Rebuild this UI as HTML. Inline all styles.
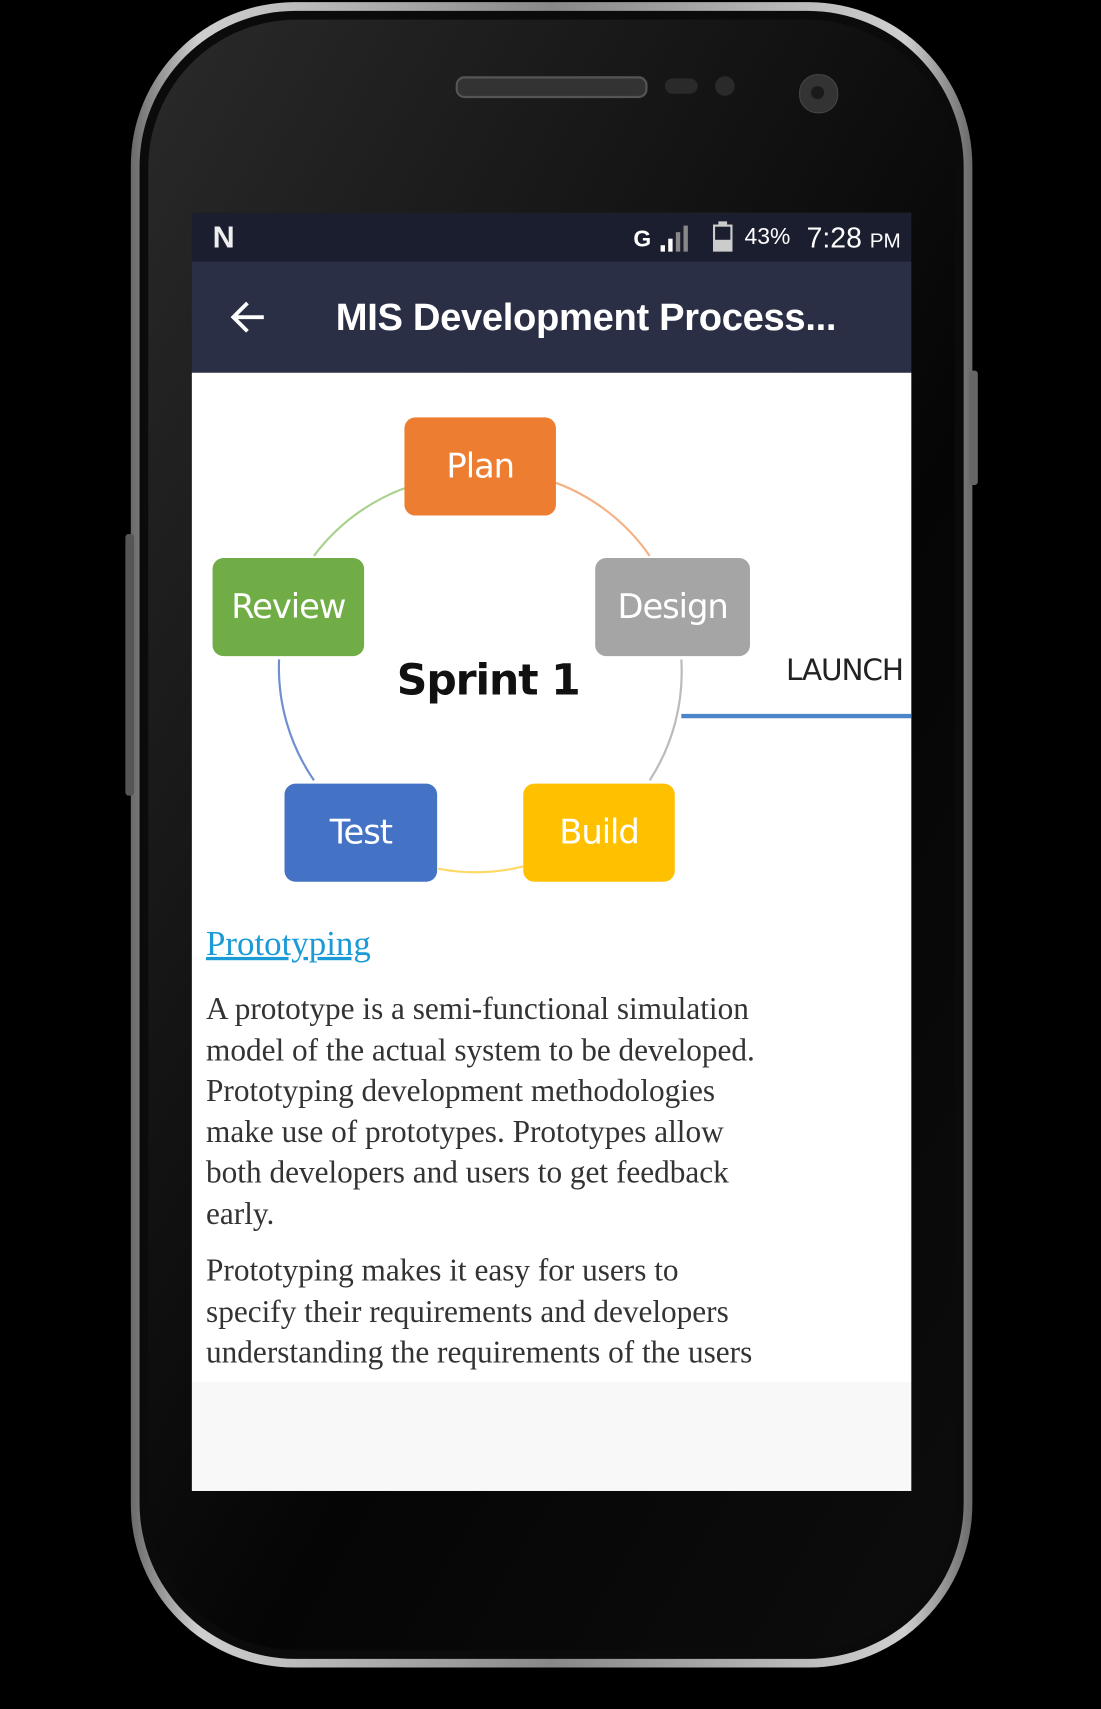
<!DOCTYPE html>
<html><head><meta charset="utf-8">
<style>
html,body{margin:0;padding:0;background:#000;width:1101px;height:1709px;overflow:hidden}
#w{position:absolute;left:0;top:0;width:1010px;height:1568px;transform:scale(1.0901,1.0899);transform-origin:0 0;font-family:"Liberation Sans",sans-serif}
.abs{position:absolute}
.box{position:absolute;width:139px;height:90px;border-radius:10px;color:#fff;font-size:31px;display:flex;align-items:center;justify-content:center;font-family:"DejaVu Sans","Liberation Sans",sans-serif;letter-spacing:-1px}
.p{position:absolute;left:189px;font-family:"Liberation Serif","DejaVu Serif",serif;font-size:28.7px;color:#333;line-height:37.6px;width:640px;white-space:nowrap}
</style></head><body><div id="w">
<div class="abs" style="left:120px;top:2px;width:772px;height:1528px;border-radius:150px;background:linear-gradient(90deg,#6a6a6a,#cfcfcf 8%,#888 50%,#cfcfcf 92%,#6a6a6a)"></div>
<div class="abs" style="left:128px;top:10px;width:756px;height:1512px;border-radius:143px;background:#0b0b0b"></div>
<div class="abs" style="left:136px;top:18px;width:740px;height:1496px;border-radius:136px;background:linear-gradient(120deg,#2a2a2a 0%,#141414 35%,#050505 60%,#0d0d0d 100%)"></div>
<div class="abs" style="left:115px;top:490px;width:8px;height:240px;background:#555;border-radius:3px"></div>
<div class="abs" style="left:889px;top:340px;width:8px;height:105px;background:#666;border-radius:3px"></div>
<div class="abs" style="left:418px;top:70px;width:172px;height:16px;border-radius:8px;background:#333;border:2px solid #555"></div>
<div class="abs" style="left:610px;top:72px;width:30px;height:14px;border-radius:7px;background:#2a2a2a"></div>
<div class="abs" style="left:656px;top:70px;width:18px;height:18px;border-radius:9px;background:#2a2a2a"></div>
<div class="abs" style="left:733px;top:68px;width:34px;height:34px;border-radius:17px;background:#333;border:1px solid #444"></div>
<div class="abs" style="left:744px;top:79px;width:12px;height:12px;border-radius:6px;background:#1a1a1a"></div>
<div class="abs" style="left:176px;top:195px;width:660px;height:45px;background:#1b1e2e"></div>
<div class="abs" style="left:195px;top:202px;color:#eee;font-size:28px;font-weight:bold">N</div>
<div class="abs" style="left:581px;top:208px;color:#fff;font-size:21px;font-weight:bold">G</div>
<svg class="abs" style="left:604px;top:205px" width="34" height="26"><rect x="2" y="20" width="4" height="6" fill="#fff"/><rect x="9" y="14" width="4" height="12" fill="#fff"/><rect x="16" y="8" width="4" height="18" fill="#888"/><rect x="23" y="2" width="4" height="24" fill="#888"/></svg>
<svg class="abs" style="left:654px;top:203px" width="18" height="28"><rect x="5" y="0" width="8" height="3" fill="#ccc"/><rect x="0" y="3" width="18" height="25" fill="#ccc"/><rect x="2" y="5" width="14" height="12" fill="#1b1e2e"/></svg>
<div class="abs" style="left:683px;top:206px;color:#fff;font-size:21px">43%</div>
<div class="abs" style="left:740px;top:203px;color:#fff;font-size:26px">7:28 <span style="font-size:19px">PM</span></div>
<div class="abs" style="left:176px;top:240px;width:660px;height:102px;background:#2b2f45"></div>
<svg class="abs" style="left:210px;top:274px" width="36" height="34"><path d="M32 17H5M17 4L4 17L17 30" stroke="#fff" stroke-width="3.5" fill="none"/></svg>
<div class="abs" style="left:308px;top:272px;color:#fff;font-size:35px;font-weight:bold;letter-spacing:-0.3px">MIS Development Process...</div>
<div class="abs" style="left:176px;top:342px;width:660px;height:926px;background:#fff"></div>
<div class="abs" style="left:176px;top:1268px;width:660px;height:100px;background:#f8f8f8"></div>
<svg class="abs" style="left:0;top:0" width="1010" height="1568">
<path d="M510 443 A183 183 0 0 1 596 510" stroke="#f4b183" stroke-width="2" fill="none"/>
<path d="M625 605 A183 183 0 0 1 596 716" stroke="#bbb" stroke-width="2" fill="none"/>
<path d="M480 795 A183 183 0 0 1 402 797" stroke="#ffd966" stroke-width="2" fill="none"/>
<path d="M288 716 A183 183 0 0 1 256 605" stroke="#6f8fd0" stroke-width="2" fill="none"/>
<path d="M288 510 A183 183 0 0 1 371 448" stroke="#a9d18e" stroke-width="2" fill="none"/>
<line x1="625" y1="657" x2="836" y2="657" stroke="#4a86c8" stroke-width="4"/>
</svg>
<div class="box" style="left:371px;top:383px;background:#ed7d31">Plan</div>
<div class="box" style="left:195px;top:512px;background:#70ad47">Review</div>
<div class="box" style="left:546px;top:512px;width:142px;background:#a5a5a5">Design</div>
<div class="box" style="left:261px;top:719px;width:140px;background:#4472c4">Test</div>
<div class="box" style="left:480px;top:719px;background:#ffc000">Build</div>
<div class="abs" style="left:364px;top:602px;font-size:39px;font-weight:bold;color:#111;font-family:'DejaVu Sans',sans-serif;letter-spacing:-1px">Sprint 1</div>
<div class="abs" style="left:721px;top:600px;font-size:27px;color:#222;font-family:'DejaVu Sans',sans-serif;letter-spacing:-1px">LAUNCH</div>
<div class="p" style="top:847px;font-size:32px;color:#1a9ad6;text-decoration:underline">Prototyping</div>
<div class="p" style="top:908px">A prototype is a semi-functional simulation<br>model of the actual system to be developed.<br>Prototyping development methodologies<br>make use of prototypes. Prototypes allow<br>both developers and users to get feedback<br>early.</div>
<div class="p" style="top:1148px">Prototyping makes it easy for users to<br>specify their requirements and developers<br>understanding the requirements of the users</div>
</div></body></html>
